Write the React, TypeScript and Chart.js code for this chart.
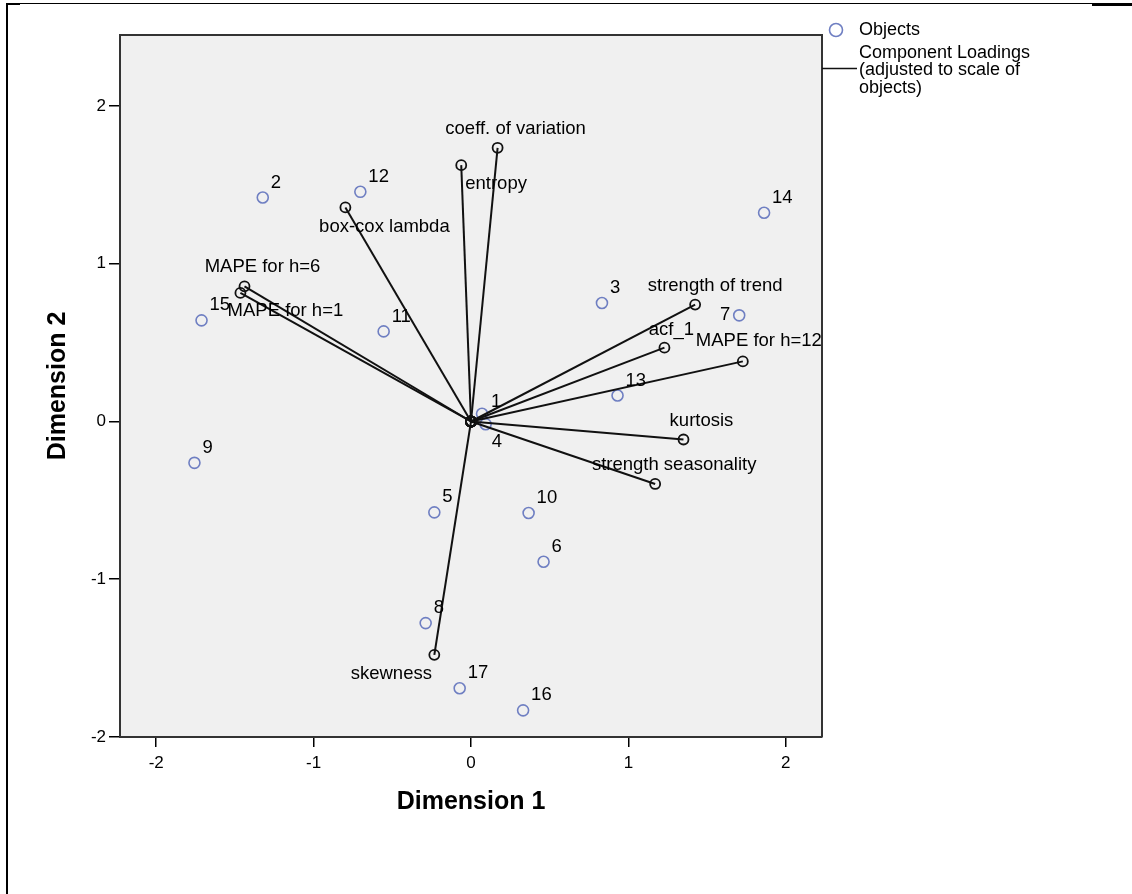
import React, { useEffect, useRef } from "react";
import { Chart, registerables } from "chart.js";

Chart.register(...registerables);

// ---------- data ----------
const objectLabels = ["1", "2", "3", "4", "5", "6", "7", "8", "9", "10", "11", "12", "13", "14", "15", "16", "17"];
const objectX = [0.07, -1.323, 0.832, 0.093, -0.233, 0.461, 1.704, -0.288, -1.757, 0.366, -0.555, -0.703, 0.931, 1.862, -1.712, 0.331, -0.072];
const objectY = [0.049, 1.42, 0.751, -0.017, -0.576, -0.889, 0.673, -1.278, -0.262, -0.58, 0.571, 1.456, 0.165, 1.323, 0.641, -1.831, -1.691];

const loadingNames = [
  "coeff. of variation",
  "entropy",
  "box-cox lambda",
  "MAPE for h=6",
  "MAPE for h=1",
  "strength of trend",
  "acf_1",
  "MAPE for h=12",
  "kurtosis",
  "strength seasonality",
  "skewness",
];
const loadingX = [0.169, -0.062, -0.798, -1.439, -1.465, 1.424, 1.229, 1.727, 1.35, 1.17, -0.233];
const loadingY = [1.735, 1.625, 1.357, 0.857, 0.815, 0.741, 0.468, 0.381, -0.114, -0.396, -1.479];

const tickValues = [-2, -1, 0, 1, 2];
const legendObjects = "Objects";
const legendLoadings = ["Component Loadings", "(adjusted to scale of", "objects)"];
const xTitle = "Dimension 1";
const yTitle = "Dimension 2";

// ---------- label placement (pixel offsets from the mark) ----------
type Place = { dx: number; dy: number; align: CanvasTextAlign };
const objectDefaultPlace: Place = { dx: 8, dy: -15, align: "left" };
const objectPlaceOverrides: Record<string, Place> = {
  "1": { dx: 9, dy: -12, align: "left" },
  "4": { dx: 6, dy: 18, align: "left" },
  "7": { dx: -9, dy: 0, align: "right" },
};
const loadingPlaces: Place[] = [
  { dx: 18, dy: -19, align: "center" },
  { dx: 4, dy: 19, align: "left" },
  { dx: 39, dy: 19, align: "center" },
  { dx: 18, dy: -19, align: "center" },
  { dx: 45, dy: 18, align: "center" },
  { dx: 20, dy: -19, align: "center" },
  { dx: 7, dy: -18, align: "center" },
  { dx: 16, dy: -20, align: "center" },
  { dx: 18, dy: -19, align: "center" },
  { dx: 19, dy: -19, align: "center" },
  { dx: -43, dy: 19, align: "center" },
];

const FONT = "'Liberation Sans', Arial, sans-serif";
const OBJ_COLOR = "#6f7fc2";
const PLOT_BG = "#f0f0f0";
const FRAME = "#333333";

export default function App() {
  const ref = useRef<HTMLCanvasElement | null>(null);

  useEffect(() => {
    if (!ref.current) return;

    const loadingDatasets = loadingNames.map((name, i) => ({
      type: "line" as const,
      label: name,
      data: [
        { x: 0, y: 0 },
        { x: loadingX[i], y: loadingY[i] },
      ],
      showLine: true,
      borderColor: "#111111",
      borderWidth: 2,
      pointRadius: 5,
      pointStyle: "circle" as const,
      pointBackgroundColor: "rgba(0,0,0,0)",
      pointBorderColor: "#111111",
      pointBorderWidth: 1.8,
      fill: false,
      tension: 0,
    }));

    const objectsDataset = {
      type: "scatter" as const,
      label: "Objects",
      data: objectX.map((x, i) => ({ x, y: objectY[i] })),
      pointRadius: 5.5,
      pointStyle: "circle" as const,
      pointBackgroundColor: "rgba(0,0,0,0)",
      pointBorderColor: OBJ_COLOR,
      pointBorderWidth: 1.6,
      showLine: false,
    };

    const bgPlugin = {
      id: "plotBg",
      beforeDraw(chart: any) {
        const { ctx, chartArea: a } = chart;
        ctx.save();
        ctx.fillStyle = PLOT_BG;
        ctx.fillRect(a.left, a.top, a.right - a.left, a.bottom - a.top);
        ctx.restore();
      },
    };

    const labelPlugin = {
      id: "labelsAndLegend",
      afterDatasetsDraw(chart: any) {
        const { ctx, chartArea: a } = chart;
        const xs = chart.scales.x;
        const ys = chart.scales.y;
        ctx.save();
        // frame top & right
        ctx.strokeStyle = FRAME;
        ctx.lineWidth = 2;
        ctx.beginPath();
        ctx.moveTo(a.left, a.top);
        ctx.lineTo(a.right, a.top);
        ctx.lineTo(a.right, a.bottom);
        ctx.stroke();

        ctx.fillStyle = "#000";
        ctx.font = `18.5px ${FONT}`;
        ctx.textBaseline = "middle";
        objectLabels.forEach((lab, i) => {
          const p = objectPlaceOverrides[lab] || objectDefaultPlace;
          const px = xs.getPixelForValue(objectX[i]);
          const py = ys.getPixelForValue(objectY[i]);
          ctx.textAlign = p.align;
          ctx.fillText(lab, px + p.dx, py + p.dy);
        });
        loadingNames.forEach((lab, i) => {
          const p = loadingPlaces[i];
          const px = xs.getPixelForValue(loadingX[i]);
          const py = ys.getPixelForValue(loadingY[i]);
          ctx.textAlign = p.align;
          ctx.fillText(lab, px + p.dx, py + p.dy);
        });

        // legend
        const lx = a.right;
        ctx.strokeStyle = OBJ_COLOR;
        ctx.lineWidth = 1.6;
        ctx.beginPath();
        ctx.arc(lx + 14, 30, 6.5, 0, Math.PI * 2);
        ctx.stroke();
        ctx.textAlign = "left";
        ctx.font = `18px ${FONT}`;
        ctx.fillText(legendObjects, lx + 37, 30);
        legendLoadings.forEach((t, i) => {
          ctx.fillText(t, lx + 37, 53 + i * 17.5);
        });
        ctx.strokeStyle = "#111";
        ctx.lineWidth = 1.5;
        ctx.beginPath();
        ctx.moveTo(lx, 68.5);
        ctx.lineTo(lx + 35, 68.5);
        ctx.stroke();
        ctx.restore();
      },
    };

    const chart = new Chart(ref.current, {
      type: "scatter",
      data: { datasets: [...loadingDatasets, objectsDataset] as any },
      options: {
        animation: false,
        responsive: false,
        devicePixelRatio: 1,
        layout: { padding: { top: 35, right: 310, left: 0, bottom: 0 } },
        plugins: {
          legend: { display: false },
          tooltip: { enabled: false },
        },
        scales: {
          x: {
            type: "linear",
            min: -2.23,
            max: 2.23,
            afterFit(scale: any) {
              scale.height = 157;
            },
            afterBuildTicks(scale: any) {
              scale.ticks = tickValues.map((v) => ({ value: v }));
            },
            ticks: {
              includeBounds: false,
              color: "#000",
              padding: 6,
              font: { family: FONT, size: 17 },
              maxRotation: 0,
            },
            grid: {
              drawOnChartArea: false,
              drawTicks: true,
              tickLength: 10,
              color: "#000",
              lineWidth: 1.5,
            },
            border: { display: true, color: FRAME, width: 2 },
            title: {
              display: true,
              text: xTitle,
              color: "#000",
              font: { family: FONT, size: 25, weight: "bold" },
              padding: { top: 0, bottom: 77 },
            },
          },
          y: {
            type: "linear",
            min: -2.0,
            max: 2.45,
            afterFit(scale: any) {
              scale.width = 120;
            },
            afterBuildTicks(scale: any) {
              scale.ticks = tickValues.map((v) => ({ value: v }));
            },
            ticks: {
              includeBounds: false,
              color: "#000",
              padding: 3,
              font: { family: FONT, size: 17 },
            },
            grid: {
              drawOnChartArea: false,
              drawTicks: true,
              tickLength: 11,
              color: "#000",
              lineWidth: 1.5,
            },
            border: { display: true, color: FRAME, width: 2 },
            title: {
              display: true,
              text: yTitle,
              color: "#000",
              font: { family: FONT, size: 25, weight: "bold" },
              padding: { top: 43, bottom: 0 },
            },
          },
        },
      } as any,
      plugins: [bgPlugin, labelPlugin],
    });

    return () => {
      chart.destroy();
    };
  }, []);

  return (
    <div
      style={{
        position: "absolute",
        left: 0,
        top: 0,
        width: 1132,
        height: 894,
        background: "#fff",
        overflow: "hidden",
      }}
    >
      <div style={{ position: "absolute", left: 6, top: 4, width: 2, height: 890, background: "#000" }} />
      <div style={{ position: "absolute", left: 6, top: 3, width: 1086, height: 1, background: "#000" }} />
      <div style={{ position: "absolute", left: 6, top: 3, width: 14, height: 2, background: "#000" }} />
      <div style={{ position: "absolute", left: 1092, top: 3, width: 40, height: 3, background: "#000" }} />
      <canvas ref={ref} width={1132} height={894} style={{ position: "absolute", left: 0, top: 0, width: 1132, height: 894 }} />
    </div>
  );
}
